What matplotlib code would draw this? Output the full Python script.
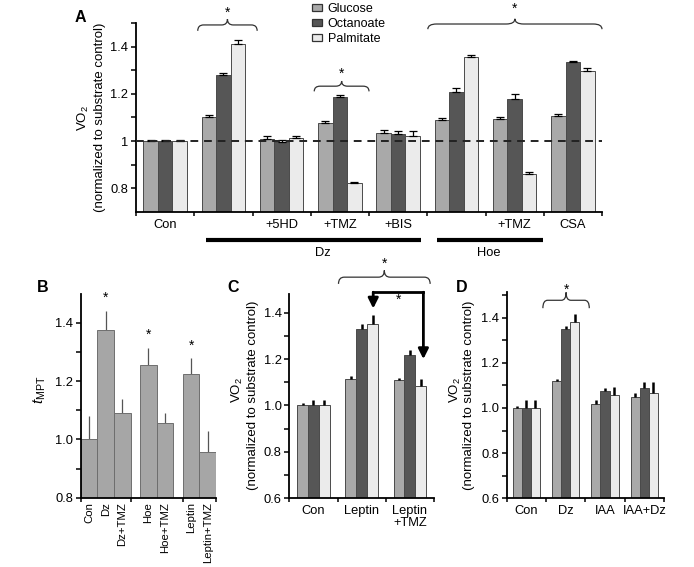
import matplotlib
matplotlib.use('Agg')
import matplotlib.pyplot as plt
import numpy as np
from matplotlib.path import Path
from matplotlib.patches import PathPatch, Patch
from matplotlib.ticker import FixedLocator

plt.rcParams['font.family'] = ['Liberation Sans', 'DejaVu Sans']
plt.rcParams['mathtext.fontset'] = 'custom'
plt.rcParams['mathtext.rm'] = 'Liberation Sans'
plt.rcParams['mathtext.it'] = 'Liberation Sans:italic'
plt.rcParams['font.size'] = 9.3

# ---- Panel A data ----
a_labels = ['Con', '', '+5HD', '+TMZ', '+BIS', '', '+TMZ', 'CSA']
a_glucose = [1.00, 1.10, 1.01, 1.075, 1.036, 1.09, 1.095, 1.105]
a_octanoate = [1.00, 1.28, 0.995, 1.185, 1.03, 1.207, 1.18, 1.335]
a_palmitate = [1.00, 1.413, 1.012, 0.82, 1.023, 1.355, 0.86, 1.297]
a_glucose_err = [0.005, 0.01, 0.01, 0.01, 0.012, 0.008, 0.008, 0.008]
a_octanoate_err = [0.006, 0.01, 0.01, 0.012, 0.012, 0.018, 0.018, 0.007]
a_palmitate_err = [0.006, 0.016, 0.01, 0.008, 0.018, 0.012, 0.008, 0.015]

# ---- Panel B data ----
b_labels = ['Con', 'Dz', 'Dz+TMZ', 'Hoe', 'Hoe+TMZ', 'Leptin', 'Leptin+TMZ']
b_clusters = [3, 2, 2]
b_values = [1.0, 1.375, 1.09, 1.257, 1.056, 1.223, 0.958]
b_err = [0.082, 0.066, 0.047, 0.058, 0.035, 0.055, 0.07]

# ---- Panel C data ----
c_labels = ['Con', 'Leptin', 'Leptin\n+TMZ']
c_glucose = [1.0, 1.115, 1.11]
c_octanoate = [1.0, 1.33, 1.218]
c_palmitate = [1.0, 1.349, 1.082]
c_glucose_err = [0.01, 0.014, 0.01]
c_octanoate_err = [0.023, 0.022, 0.022]
c_palmitate_err = [0.023, 0.04, 0.033]

# ---- Panel D data ----
d_labels = ['Con', 'Dz', 'IAA', 'IAA+Dz']
d_glucose = [1.0, 1.118, 1.019, 1.05]
d_octanoate = [1.0, 1.352, 1.075, 1.09]
d_palmitate = [1.0, 1.382, 1.059, 1.065]
d_glucose_err = [0.007, 0.012, 0.015, 0.018]
d_octanoate_err = [0.034, 0.01, 0.014, 0.025]
d_palmitate_err = [0.034, 0.034, 0.034, 0.05]

substrates = ['Glucose', 'Octanoate', 'Palmitate']
sub_colors = ['#a9a9a9', '#565656', '#ebebeb']

W, H = 694, 567
fig = plt.figure(figsize=(W / 100, H / 100), dpi=100)


def px_axes(l, t, r, b):
    return fig.add_axes([l / W, 1 - b / H, (r - l) / W, (b - t) / H])


def style(ax, ymajor, ylabels, yminor, xbounds):
    for s in ['top', 'right']:
        ax.spines[s].set_visible(False)
    for s in ['left', 'bottom']:
        ax.spines[s].set_linewidth(1.3)
    ax.set_yticks(ymajor)
    ax.set_yticklabels(ylabels)
    ax.yaxis.set_minor_locator(FixedLocator(yminor))
    ax.tick_params(axis='y', which='both', direction='out', length=3.5, width=1.1, pad=2)
    ax.xaxis.set_minor_locator(FixedLocator(xbounds))
    ax.tick_params(axis='x', which='minor', direction='out', length=3, width=1.1)
    ax.tick_params(axis='x', which='major', length=0, pad=5)


def brace(ax, x0, x1, y, h, q):
    xm = (x0 + x1) / 2
    codes = [Path.MOVETO, Path.CURVE3, Path.CURVE3, Path.LINETO, Path.CURVE3, Path.CURVE3,
             Path.MOVETO, Path.CURVE3, Path.CURVE3, Path.LINETO, Path.CURVE3, Path.CURVE3]
    verts = [(x0, y - h), (x0, y), (x0 + q, y), (xm - q, y), (xm, y), (xm, y + h),
             (xm, y + h), (xm, y), (xm + q, y), (x1 - q, y), (x1, y), (x1, y - h)]
    ax.add_patch(PathPatch(Path(verts, codes), fill=False, lw=0.9, ec='#333333', clip_on=False))


def grouped(ax, vals, errs, width, err_style):
    n = len(vals[0])
    x = np.arange(n) + 0.5
    for i, (v, e, c) in enumerate(zip(vals, errs, sub_colors)):
        xi = x + (i - 1) * width
        ax.bar(xi, v, width, color=c, edgecolor='#4a4a4a', linewidth=0.7, zorder=2)
        ax.errorbar(xi, v, yerr=[np.zeros(n), e], fmt='none', zorder=3, **err_style)
    return x


# ---------- Panel A ----------
axA = px_axes(136, 23.3, 602, 211.7)
xa = grouped(axA, [a_glucose, a_octanoate, a_palmitate],
             [a_glucose_err, a_octanoate_err, a_palmitate_err], 0.25,
             dict(ecolor='black', elinewidth=0.9, capsize=3, capthick=0.9))
axA.axhline(1.0, color='#222222', lw=1.4, ls=(0, (4, 3)), zorder=4)
axA.set_xlim(0, 8)
axA.set_ylim(0.7, 1.5)
axA.set_xticks(xa)
axA.set_xticklabels(a_labels)
style(axA, [0.8, 1.0, 1.2, 1.4], ['0.8', '1', '1.2', '1.4'], [0.9, 1.1, 1.3, 1.5], range(9))
brace(axA, 1.06, 2.08, 1.493, 0.025, 0.1)
axA.text(1.57, 1.545, '*', ha='center', va='center', fontsize=10)
brace(axA, 3.06, 4.0, 1.233, 0.022, 0.1)
axA.text(3.53, 1.285, '*', ha='center', va='center', fontsize=10)
brace(axA, 5.01, 8.0, 1.497, 0.022, 0.15)
axA.text(6.5, 1.56, '*', ha='center', va='center', fontsize=10)
axA.plot([1.2, 4.89], [0.581, 0.581], color='black', lw=3, clip_on=False, solid_capstyle='butt')
axA.plot([5.17, 6.99], [0.581, 0.581], color='black', lw=3, clip_on=False, solid_capstyle='butt')
axA.text(3.21, 0.524, 'Dz', ha='center', va='center')
axA.text(6.06, 0.524, 'Hoe', ha='center', va='center')
fig.text(83 / W, 1 - 118 / H, r'VO$_\mathregular{2}$', rotation=90, ha='center', va='center', fontsize=9.5)
fig.text(100 / W, 1 - 117 / H, '(normalized to substrate control)', rotation=90,
         ha='center', va='center', fontsize=9.5)
fig.text(80 / W, 1 - 17 / H, 'A', ha='center', va='center', fontsize=11.5, fontweight='bold')
handles = [Patch(facecolor=c, edgecolor='#333333', linewidth=0.9) for c in sub_colors]
fig.legend(handles, substrates, loc='upper left', bbox_to_anchor=(312 / W, 1 - 3 / H),
           frameon=False, handlelength=0.8, handleheight=0.45, handletextpad=0.45,
           labelspacing=0.25, borderpad=0, borderaxespad=0, fontsize=9)

# ---------- Panel B ----------
axB = px_axes(80.7, 293.7, 216, 497.7)
gap = 0.57
bx = []
start = 0.0
bounds = [0.0]
for k, n in enumerate(b_clusters):
    bx += [start + j + 0.5 for j in range(n)]
    start += n
    if k == 0:
        bounds.append(start)
    start += gap
    if k == 1:
        bounds.append(start)
bx = np.array(bx)
axB.bar(bx, b_values, 1.0, color='#a6a6a6', edgecolor='#6e6e6e', linewidth=0.7, zorder=2)
axB.errorbar(bx, b_values, yerr=[np.zeros(len(b_values)), b_err], fmt='none',
             ecolor='#555555', elinewidth=0.9, capsize=0, zorder=1)
xend = start - gap
bounds.append(xend)
axB.set_xlim(0, xend)
axB.set_ylim(0.8, 1.5)
axB.set_xticks(bx)
axB.set_xticklabels(b_labels, rotation=90, fontsize=8.2)
style(axB, [0.8, 1.0, 1.2, 1.4], ['0.8', '1.0', '1.2', '1.4'], [0.9, 1.1, 1.3], bounds)
axB.tick_params(axis='x', which='major', pad=3)
for i in [1, 3, 5]:
    axB.text(bx[i], b_values[i] + b_err[i] + 0.045, '*', ha='center', va='center', fontsize=10)
fig.text(40 / W, 1 - 390 / H, r'$\mathit{t}_\mathregular{MPT}$', rotation=90,
         ha='center', va='center', fontsize=11)
fig.text(43 / W, 1 - 288 / H, 'B', ha='center', va='center', fontsize=11.5, fontweight='bold')

thick = dict(ecolor='black', elinewidth=1.8, capsize=0)

# ---------- Panel C ----------
axC = px_axes(289.3, 294.1, 434, 498.3)
xc = grouped(axC, [c_glucose, c_octanoate, c_palmitate],
             [c_glucose_err, c_octanoate_err, c_palmitate_err], 0.225, thick)
axC.set_xlim(0, 3)
axC.set_ylim(0.6, 1.48)
axC.set_xticks(xc)
axC.set_xticklabels(c_labels, linespacing=1.0)
style(axC, [0.6, 0.8, 1.0, 1.2, 1.4], ['0.6', '0.8', '1.0', '1.2', '1.4'],
      [0.7, 0.9, 1.1, 1.3], range(4))
brace(axC, 1.02, 2.92, 1.553, 0.029, 0.12)
axC.text(1.97, 1.61, '*', ha='center', va='center', fontsize=10)
axC.plot([1.74, 2.78], [1.488, 1.488], color='black', lw=2, clip_on=False,
         solid_capstyle='projecting')
axC.annotate('', xy=(1.74, 1.418), xytext=(1.74, 1.488),
             arrowprops=dict(arrowstyle='-|>', color='black', lw=2, mutation_scale=15,
                             shrinkA=0, shrinkB=0), annotation_clip=False)
axC.annotate('', xy=(2.78, 1.2), xytext=(2.78, 1.488),
             arrowprops=dict(arrowstyle='-|>', color='black', lw=2, mutation_scale=15,
                             shrinkA=0, shrinkB=0), annotation_clip=False)
axC.text(2.26, 1.455, '*', ha='center', va='center', fontsize=10)
fig.text(237 / W, 1 - 390 / H, r'VO$_\mathregular{2}$', rotation=90, ha='center', va='center', fontsize=9.5)
fig.text(253 / W, 1 - 395 / H, '(normalized to substrate control)', rotation=90,
         ha='center', va='center', fontsize=9.5)
fig.text(233 / W, 1 - 288 / H, 'C', ha='center', va='center', fontsize=11.5, fontweight='bold')

# ---------- Panel D ----------
axD = px_axes(506.7, 291.7, 664, 498.3)
xd = grouped(axD, [d_glucose, d_octanoate, d_palmitate],
             [d_glucose_err, d_octanoate_err, d_palmitate_err], 0.23, thick)
axD.set_xlim(0, 4)
axD.set_ylim(0.6, 1.515)
axD.set_xticks(xd)
axD.set_xticklabels(d_labels)
style(axD, [0.6, 0.8, 1.0, 1.2, 1.4], ['0.6', '0.8', '1.0', '1.2', '1.4'],
      [0.7, 0.9, 1.1, 1.3, 1.5], range(5))
brace(axD, 0.92, 2.1, 1.477, 0.035, 0.12)
axD.text(1.51, 1.525, '*', ha='center', va='center', fontsize=10)
fig.text(455 / W, 1 - 390 / H, r'VO$_\mathregular{2}$', rotation=90, ha='center', va='center', fontsize=9.5)
fig.text(469 / W, 1 - 395 / H, '(normalized to substrate control)', rotation=90,
         ha='center', va='center', fontsize=9.5)
fig.text(462 / W, 1 - 288 / H, 'D', ha='center', va='center', fontsize=11.5, fontweight='bold')

fig.savefig('out.png', dpi=100)
